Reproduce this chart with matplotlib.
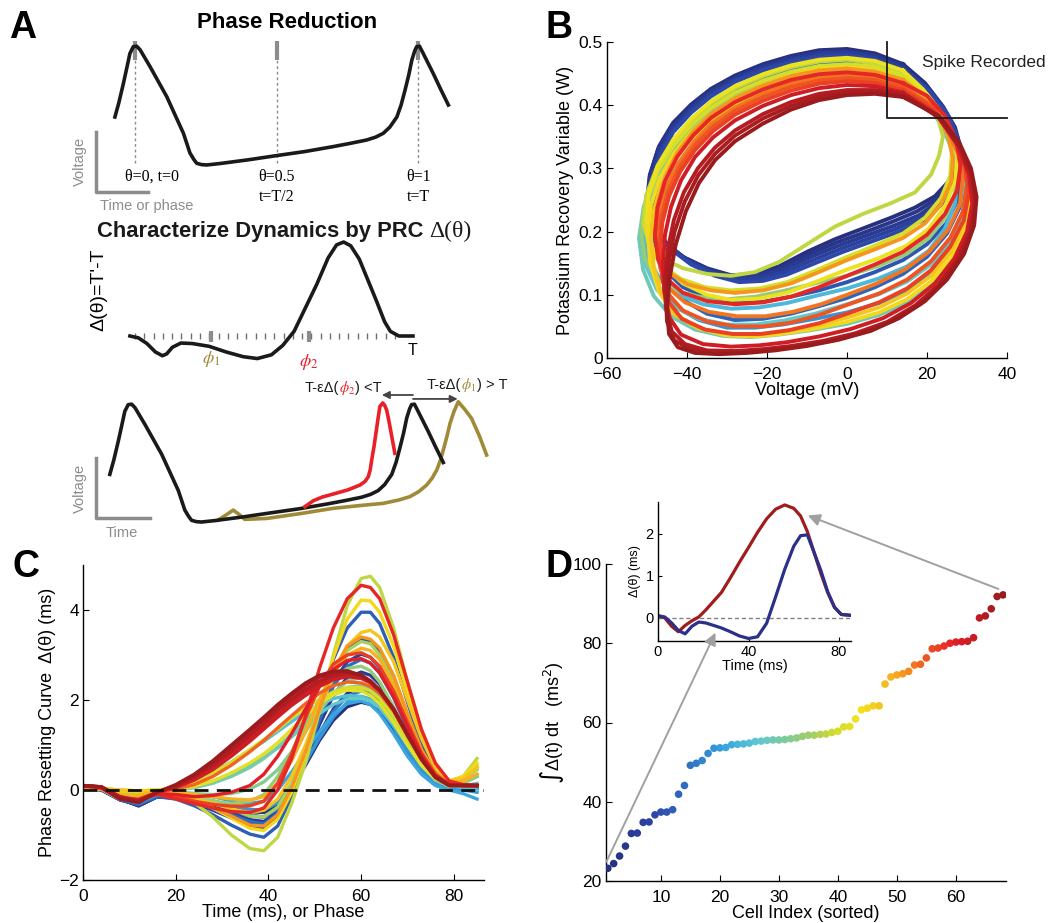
import matplotlib
matplotlib.use('Agg')
import matplotlib.pyplot as plt
import numpy as np
from matplotlib.colors import LinearSegmentedColormap
from matplotlib.offsetbox import TextArea, HPacker, AnnotationBbox
from matplotlib.patches import ConnectionPatch

plt.rcParams['font.family'] = ['Liberation Sans', 'DejaVu Sans']

W, H = 1053, 923

# muted jet colours, as printed
jet_stops = [0.0, 0.11, 0.2, 0.3, 0.38, 0.5, 0.58, 0.64, 0.74, 0.8, 0.88, 1.0]
jet_colors = ['#27307f', '#2d45a5', '#2f6fc0', '#3aa6e0', '#5fc8d2', '#98cc74',
              '#d4dc2c', '#f2e41c', '#f6a21e', '#f05a23', '#e31e26', '#9a1b1e']
n_cells = 68

# ---------------- panel A (schematic) ----------------
trace_t = [-0.071, -0.057, -0.041, -0.028, -0.018, -0.006, 0.006, 0.018, 0.053, 0.112,
           0.171, 0.194, 0.208, 0.218, 0.235, 0.253, 0.3, 0.4, 0.5, 0.6,
           0.7, 0.76, 0.818, 0.85, 0.877, 0.9, 0.925, 0.94, 0.954, 0.967,
           0.978, 0.988, 0.995, 1.005, 1.018, 1.054, 1.08, 1.107]
trace_v = [0.4, 0.52, 0.68, 0.82, 0.93, 0.986, 0.99, 0.96, 0.82, 0.57,
           0.264, 0.1, 0.045, 0.014, 0.003, 0.0, 0.012, 0.043, 0.078, 0.112,
           0.153, 0.18, 0.208, 0.232, 0.264, 0.315, 0.4, 0.5, 0.625, 0.75,
           0.875, 0.95, 0.986, 0.99, 0.93, 0.76, 0.63, 0.5]
phase_marks = [0.0, 0.5, 1.0]

prc_theta = [0.0, 0.03, 0.06, 0.09, 0.115, 0.13, 0.15, 0.18, 0.22, 0.28, 0.34, 0.4,
             0.45, 0.5, 0.54, 0.58, 0.62, 0.66, 0.7, 0.73, 0.755, 0.78, 0.81, 0.84,
             0.87, 0.9, 0.92, 0.95, 0.98, 1.0]
prc_delta = [0.0, -0.02, -0.08, -0.17, -0.21, -0.19, -0.12, -0.075, -0.08, -0.11, -0.17, -0.22,
             -0.24, -0.2, -0.1, 0.05, 0.3, 0.55, 0.83, 0.97, 1.0, 0.96, 0.82, 0.6,
             0.38, 0.15, 0.05, 0.0, 0.0, 0.0]
phi1, phi2 = 0.286, 0.633

red_t = [0.618, 0.648, 0.68, 0.718, 0.77, 0.813, 0.83, 0.842, 0.849, 0.854, 0.862, 0.869,
         0.876, 0.883, 0.893, 0.9, 0.907, 0.914, 0.921, 0.936]
red_v = [0.129, 0.179, 0.21, 0.235, 0.27, 0.311, 0.34, 0.38, 0.44, 0.52, 0.63, 0.745,
         0.86, 0.97, 1.0, 0.98, 0.94, 0.86, 0.77, 0.577]
olive_t = [0.312, 0.34, 0.365, 0.385, 0.406, 0.483, 0.6, 0.718, 0.82, 0.895, 0.95, 0.989,
           1.02, 1.048, 1.068, 1.084, 1.097, 1.107, 1.12, 1.131, 1.145, 1.16, 1.185, 1.207,
           1.235, 1.26]
olive_v = [0.017, 0.06, 0.1, 0.065, 0.022, 0.03, 0.07, 0.115, 0.14, 0.157, 0.185, 0.213,
           0.255, 0.31, 0.37, 0.437, 0.52, 0.605, 0.72, 0.83, 0.93, 1.01, 0.94, 0.87,
           0.72, 0.563]

# ---------------- panel B: limit cycles (V, W) ----------------
loop_cells = [1, 3, 5, 7, 9, 11, 13, 19, 24, 27, 29, 34, 38, 40, 43, 45, 47, 51, 53, 55,
              57, 59, 62, 65, 66, 68]
loops = [
    [(14, .465), (7, .482), (0, .489), (-7, .487), (-14, .478), (-21, .465), (-28, .447), (-34, .426),
     (-39, .401), (-43.5, .372), (-47, .335), (-49.3, .29), (-50, .25), (-49, .215), (-46, .185),
     (-41, .16), (-35, .142), (-29, .131), (-23, .133), (-17, .145), (-10, .168), (-3, .188), (4, .205),
     (11, .222), (17, .238), (22, .256), (25.5, .28), (27.8, .31), (28.3, .335), (27, .365), (24, .398),
     (19.5, .435), (14, .465)],
    [(14, .462), (7, .479), (0, .486), (-7, .484), (-14, .475), (-21, .462), (-28, .444), (-34, .423),
     (-39, .398), (-43.5, .368), (-47.2, .331), (-49.3, .287), (-49.8, .247), (-48.7, .212), (-45.5, .182),
     (-40.5, .158), (-34.5, .14), (-28.5, .129), (-22.5, .132), (-16.5, .143), (-9.5, .164), (-2.5, .183),
     (4.5, .199), (11.5, .216), (17.5, .232), (22.5, .252), (26, .28), (28.2, .313), (27.8, .345),
     (25.5, .38), (21, .42), (14, .462)],
    [(14, .46), (7, .477), (0, .484), (-7, .482), (-14, .473), (-21, .46), (-28, .442), (-34, .42),
     (-39, .395), (-43.5, .365), (-47, .328), (-49, .285), (-49.5, .245), (-48.3, .21), (-45, .18),
     (-40, .155), (-34, .137), (-28, .127), (-22, .13), (-16, .14), (-9, .16), (-2, .178), (5, .194),
     (12, .21), (18, .226), (23, .248), (26.5, .28), (28, .315), (27.3, .35), (25, .385), (20.5, .425),
     (14, .46)],
    [(14, .457), (7, .474), (0, .481), (-7, .479), (-14, .47), (-21, .457), (-28, .439), (-34, .417),
     (-39, .391), (-43.5, .36), (-46.9, .322), (-48.8, .28), (-49.2, .24), (-47.8, .205), (-44.5, .176),
     (-39.5, .152), (-33.5, .134), (-27.5, .124), (-21.5, .126), (-15.5, .136), (-8.5, .155), (-1.5, .173),
     (5.5, .189), (12.5, .205), (18.5, .222), (23.3, .245), (26.8, .278), (28.3, .313), (27.5, .35),
     (25, .386), (20.5, .424), (14, .457)],
    [(14, .455), (7, .472), (0, .478), (-7, .476), (-14, .468), (-21, .455), (-28, .437), (-34, .414),
     (-39, .388), (-43.5, .357), (-46.8, .318), (-48.6, .275), (-48.8, .235), (-47.3, .2), (-44, .172),
     (-39, .148), (-33, .13), (-27, .12), (-21, .122), (-15, .132), (-8, .15), (-1, .168), (6, .184),
     (13, .2), (19, .218), (23.5, .242), (27, .275), (28.5, .312), (27.6, .35), (25, .387), (20.5, .423),
     (14, .455)],
    [(14, .45), (7, .465), (0, .47), (-7, .467), (-14, .458), (-21, .444), (-28, .425), (-34, .401),
     (-39, .373), (-43.3, .34), (-46.7, .301), (-48.7, .258), (-49.2, .215), (-48, .172), (-45.3, .138),
     (-41, .112), (-35, .095), (-28, .087), (-21, .089), (-14, .097), (-7, .107), (0, .12), (7, .136),
     (14, .155), (20, .18), (24.8, .213), (27.8, .252), (28.6, .292), (27.5, .332), (24.8, .372),
     (20.5, .41), (14, .45)],
    [(14, .448), (7, .463), (0, .468), (-7, .465), (-14, .456), (-21, .442), (-28, .422), (-34, .398),
     (-39, .37), (-43, .337), (-46.3, .298), (-48.2, .255), (-48.5, .21), (-47.3, .165), (-45, .125),
     (-41, .092), (-35, .07), (-28, .06), (-21, .062), (-14, .07), (-7, .082), (0, .095), (7, .112),
     (14, .133), (20, .16), (25, .197), (28.3, .24), (29.3, .28), (28.3, .32), (25.5, .362), (21, .405),
     (14, .448)],
    [(14, .44), (7, .454), (0, .458), (-7, .455), (-14, .446), (-21, .432), (-28, .412), (-34, .388),
     (-39, .36), (-43.5, .327), (-47.5, .29), (-50, .245), (-51, .2), (-50, .155), (-47.5, .115),
     (-43, .082), (-37, .06), (-30, .048), (-23, .048), (-16, .053), (-8, .062), (0, .072), (8, .087),
     (15, .107), (21, .135), (25.5, .17), (29, .215), (30.2, .26), (29, .305), (26, .35), (21, .397),
     (14, .44)],
    [(14, .432), (7, .445), (0, .448), (-7, .445), (-14, .436), (-21, .422), (-28, .402), (-34, .378),
     (-39, .35), (-43.5, .318), (-47.3, .28), (-49.8, .237), (-50.6, .195), (-49.5, .155), (-46.5, .122),
     (-42, .1), (-36, .085), (-29, .078), (-22, .08), (-15, .087), (-8, .098), (0, .11), (8, .126),
     (15, .145), (20.5, .17), (24.5, .205), (27, .245), (27.6, .285), (26.5, .325), (24, .365), (20, .403),
     (14, .432)],
    [(14, .43), (7, .443), (0, .446), (-7, .443), (-14, .434), (-21, .42), (-28, .4), (-34, .376),
     (-39, .348), (-43.5, .316), (-47.5, .278), (-50.3, .234), (-51.3, .19), (-50.3, .146), (-47.5, .108),
     (-43, .08), (-37, .062), (-30, .053), (-23, .053), (-16, .059), (-8, .07), (0, .085), (8, .101),
     (15, .121), (21, .148), (25.8, .183), (28.8, .225), (29.6, .268), (28.6, .31), (25.8, .352),
     (21, .395), (14, .43)],
    [(14, .437), (7, .45), (0, .455), (-7, .452), (-14, .443), (-21, .429), (-28, .409), (-34, .385),
     (-39, .357), (-43.5, .324), (-47.8, .285), (-50.8, .24), (-52, .19), (-51, .14), (-48.3, .098),
     (-44, .066), (-38, .045), (-31, .035), (-24, .033), (-17, .037), (-9, .044), (0, .054), (8, .068),
     (15, .088), (21, .115), (26, .152), (29.5, .2), (30.8, .25), (29.8, .298), (26.7, .345), (21.5, .393),
     (14, .437)],
    [(14, .443), (7, .457), (0, .462), (-7, .459), (-14, .45), (-21, .436), (-28, .416), (-34, .392),
     (-39, .364), (-43.5, .331), (-47.5, .292), (-50.3, .248), (-51.5, .2), (-50.5, .158), (-47.8, .127),
     (-43, .107), (-37, .097), (-30, .093), (-23, .097), (-16, .106), (-8, .118), (0, .13), (8, .146),
     (15, .165), (20.5, .19), (24.5, .222), (27, .26), (27.5, .298), (26.3, .337), (23.5, .375),
     (19.5, .41), (14, .443)],
    [(14, .45), (7, .466), (0, .472), (-7, .469), (-14, .46), (-21, .446), (-28, .427), (-34, .403),
     (-39, .375), (-43.5, .342), (-47.5, .302), (-50.2, .258), (-51, .215), (-49.5, .18), (-46, .157),
     (-41, .142), (-35, .133), (-29, .13), (-23, .136), (-17, .152), (-10, .18), (-3, .208), (4, .228),
     (11, .245), (17, .262), (21, .29), (23, .32), (24, .35), (22.5, .385), (19, .418), (14, .45)],
    [(14, .447), (7, .461), (0, .465), (-7, .462), (-14, .453), (-21, .439), (-28, .42), (-34, .396),
     (-39, .368), (-43.5, .335), (-47.3, .296), (-49.8, .252), (-50.5, .21), (-49.2, .172), (-46, .145),
     (-41.5, .125), (-35.5, .112), (-29, .107), (-22, .11), (-15, .12), (-8, .138), (0, .16), (7, .178),
     (14, .197), (19.5, .222), (23.5, .253), (25.8, .288), (26.2, .325), (24.8, .362), (22, .396),
     (18.5, .425), (14, .447)],
    [(14, .455), (7, .47), (0, .475), (-7, .472), (-14, .463), (-21, .449), (-28, .43), (-34, .406),
     (-39, .378), (-43.5, .345), (-47.3, .305), (-49.6, .26), (-50, .215), (-48.7, .175), (-45.5, .143),
     (-41, .118), (-35, .1), (-29, .092), (-22, .094), (-15, .103), (-8, .12), (0, .14), (8, .158),
     (15, .178), (20.5, .205), (24.5, .24), (27, .28), (27.6, .318), (26.2, .356), (23, .393), (19, .425),
     (14, .455)],
    [(14, .44), (7, .455), (0, .46), (-7, .457), (-14, .447), (-21, .432), (-28, .411), (-34, .386),
     (-39, .357), (-43.3, .323), (-46.8, .285), (-49, .242), (-49.8, .197), (-49.2, .15), (-47, .105),
     (-43.5, .072), (-37.5, .048), (-30.5, .036), (-23.5, .034), (-16.5, .038), (-8.5, .046), (0, .057),
     (8, .072), (15, .093), (21, .121), (26, .158), (29.5, .203), (30.8, .252), (29.8, .3), (26.8, .347),
     (21.8, .393), (14, .44)],
    [(14, .433), (7, .446), (0, .45), (-7, .447), (-14, .437), (-21, .422), (-28, .401), (-34, .376),
     (-39, .347), (-43, .314), (-46.3, .276), (-48.3, .233), (-49, .19), (-48.3, .145), (-46.3, .1),
     (-43, .068), (-37, .047), (-30, .038), (-23, .037), (-16, .042), (-8, .051), (0, .064), (8, .08),
     (15, .102), (21, .13), (26, .168), (29.3, .213), (30.5, .26), (29.4, .305), (26.5, .35), (21.5, .395),
     (14, .433)],
    [(14, .44), (7, .453), (0, .458), (-7, .455), (-14, .446), (-21, .431), (-28, .411), (-34, .386),
     (-38.5, .358), (-42.5, .324), (-45.5, .285), (-47.3, .243), (-48, .2), (-47, .162), (-44.5, .135),
     (-40, .117), (-34, .107), (-28, .103), (-21, .107), (-14, .118), (-7, .136), (0, .155), (7, .172),
     (14, .19), (19.5, .213), (23.5, .243), (26, .278), (26.5, .315), (25.3, .352), (22.5, .388),
     (18.5, .418), (14, .44)],
    [(14, .432), (7, .444), (0, .448), (-7, .444), (-14, .434), (-21, .418), (-28, .396), (-33.8, .371),
     (-38.3, .342), (-42.2, .308), (-45.2, .27), (-47, .228), (-47.5, .184), (-46.7, .142), (-44.5, .11),
     (-40.5, .088), (-34.5, .073), (-27.5, .066), (-20.5, .066), (-13.5, .073), (-6.5, .085), (0, .1),
     (7.5, .118), (14.5, .14), (20.5, .168), (25.3, .203), (28.2, .243), (28.9, .283), (27.8, .323),
     (25, .362), (20.5, .4), (14, .432)],
    [(14, .428), (7, .44), (0, .443), (-7, .439), (-14, .429), (-21, .413), (-28, .391), (-33.5, .366),
     (-38, .337), (-41.8, .303), (-44.7, .264), (-46.5, .222), (-47, .178), (-46.3, .135), (-44.5, .1),
     (-41, .075), (-35, .058), (-28, .05), (-21, .05), (-14, .056), (-7, .068), (0, .084), (8, .102),
     (15, .124), (21, .153), (25.8, .19), (29, .232), (30, .275), (29, .318), (26, .36), (21, .4),
     (14, .428)],
    [(14, .424), (7, .435), (0, .438), (-7, .434), (-14, .423), (-21, .407), (-28, .385), (-33.5, .359),
     (-38, .329), (-41.7, .295), (-44.5, .256), (-46.2, .213), (-46.7, .17), (-46.2, .126), (-44.5, .088),
     (-41.3, .062), (-35.5, .045), (-28.5, .038), (-21.5, .038), (-14.5, .044), (-7, .055), (0, .07),
     (8, .088), (15, .11), (21, .139), (25.8, .176), (29.2, .218), (30.5, .262), (29.6, .306),
     (26.8, .349), (21.8, .392), (14, .424)],
    [(14, .435), (7, .448), (0, .452), (-7, .449), (-14, .44), (-21, .425), (-28, .405), (-34, .38),
     (-38.5, .352), (-42.5, .318), (-45.5, .28), (-47.4, .238), (-48, .195), (-47.2, .155), (-45, .125),
     (-41, .103), (-35, .09), (-28, .085), (-21, .088), (-14, .097), (-7, .112), (0, .13), (7, .148),
     (14, .168), (20, .195), (24.5, .228), (27.5, .265), (28.4, .305), (27.3, .345), (24.5, .383),
     (20, .415), (14, .435)],
    [(14, .42), (7, .43), (0, .432), (-7, .427), (-14, .416), (-21, .399), (-28, .376), (-33.5, .349),
     (-38, .318), (-41.5, .281), (-44, .239), (-45.5, .195), (-46, .15), (-45.7, .105), (-44.3, .063),
     (-41.5, .037), (-36, .022), (-29, .018), (-22, .02), (-15, .025), (-7, .034), (1, .046), (9, .063),
     (16, .087), (22, .118), (26.8, .157), (30, .2), (31.3, .245), (30.5, .29), (27.8, .335), (22.5, .385),
     (14, .42)],
    [(14, .418), (7, .424), (0, .424), (-7, .418), (-14, .405), (-21, .386), (-28, .36), (-33, .333),
     (-37.3, .3), (-40.8, .262), (-43.3, .218), (-44.8, .172), (-45.5, .125), (-45.3, .08), (-43.8, .042),
     (-40.5, .022), (-35, .012), (-28, .011), (-21, .014), (-14, .019), (-6, .027), (2, .039), (10, .057),
     (17, .083), (22.8, .115), (27.5, .155), (30.8, .2), (32, .245), (31, .29), (28.2, .333), (23, .38),
     (14, .418)],
    [(14, .415), (7, .421), (0, .42), (-7, .413), (-14, .399), (-21, .379), (-28, .352), (-33, .323),
     (-37.2, .289), (-40.6, .247), (-43.1, .2), (-44.6, .15), (-45.3, .1), (-45, .058), (-43.2, .028),
     (-39.5, .015), (-33.5, .009), (-26.5, .01), (-19.5, .013), (-12, .019), (-4, .027), (4, .04),
     (11.5, .059), (18.5, .086), (24, .12), (28.5, .16), (31.3, .205), (32.2, .25), (31, .295), (28, .338),
     (23, .382), (14, .415)],
    [(14, .413), (7, .418), (0, .416), (-7, .408), (-14, .393), (-21, .371), (-28, .343), (-33, .313),
     (-37, .277), (-40.3, .232), (-42.8, .18), (-44.3, .128), (-45, .078), (-44.5, .038), (-42.3, .017),
     (-38, .008), (-32, .006), (-25, .008), (-18, .012), (-10, .019), (-2, .029), (6, .043), (13, .063),
     (19.5, .09), (25, .124), (29.3, .165), (31.8, .21), (32.4, .255), (31, .3), (28, .342), (23, .383),
     (14, .413)],
]
spike_v, spike_w = 10, 0.38

# ---------------- panel C: phase resetting curves ----------------
prc_t = [0, 4, 8, 12, 16, 20, 24, 28, 32, 36, 39, 42, 45, 48, 51, 54, 57, 60, 62, 64,
         67, 70, 73, 76, 79, 82, 85]
prc_cells = [1, 3, 5, 7, 9, 12, 14, 16, 19, 21, 25, 27, 30, 32, 34, 36, 38, 40, 42, 45,
             47, 49, 51, 54, 57, 59, 60, 62, 63, 65, 66, 68]
prc_values = [
    [0.05, 0.02, -0.2, -0.35, -0.15, -0.12, -0.18, -0.27, -0.38, -0.48, -0.5, -0.35, 0.05, 0.55,
     1.1, 1.55, 1.85, 1.95, 1.9, 1.75, 1.35, 0.85, 0.42, 0.15, 0.05, 0.05, 0.05],
    [0.05, 0.02, -0.2, -0.35, -0.15, -0.13, -0.22, -0.33, -0.45, -0.58, -0.6, -0.45, -0.02, 0.6,
     1.25, 1.8, 2.15, 2.3, 2.25, 2.05, 1.6, 1.0, 0.5, 0.18, 0.06, 0.05, 0.05],
    [0.05, 0.02, -0.2, -0.35, -0.15, -0.15, -0.25, -0.38, -0.52, -0.66, -0.7, -0.5, 0.0, 0.7,
     1.45, 2.1, 2.5, 2.62, 2.55, 2.35, 1.8, 1.15, 0.6, 0.22, 0.07, 0.05, 0.05],
    [0.05, 0.0, -0.22, -0.33, -0.15, -0.16, -0.28, -0.42, -0.58, -0.74, -0.78, -0.55, 0.0, 0.8,
     1.65, 2.4, 2.85, 3.02, 2.95, 2.72, 2.15, 1.4, 0.72, 0.27, 0.08, 0.05, 0.05],
    [0.05, 0.0, -0.22, -0.33, -0.15, -0.18, -0.3, -0.45, -0.62, -0.8, -0.85, -0.6, 0.0, 0.85,
     1.8, 2.6, 3.15, 3.35, 3.3, 3.05, 2.4, 1.55, 0.8, 0.3, 0.08, 0.05, 0.05],
    [0.05, 0.0, -0.22, -0.3, -0.15, -0.2, -0.35, -0.55, -0.78, -0.98, -1.05, -0.8, -0.15, 0.75,
     1.85, 2.9, 3.6, 3.95, 3.95, 3.7, 2.95, 1.95, 1.0, 0.4, 0.12, 0.05, 0.05],
    [0.05, 0.02, -0.2, -0.32, -0.13, -0.14, -0.26, -0.4, -0.55, -0.7, -0.75, -0.52, 0.02, 0.75,
     1.55, 2.3, 2.75, 2.9, 2.82, 2.6, 2.05, 1.35, 0.7, 0.26, 0.07, 0.05, 0.05],
    [0.05, 0.02, -0.2, -0.3, -0.12, -0.1, -0.2, -0.3, -0.42, -0.55, -0.6, -0.42, 0.0, 0.6,
     1.2, 1.75, 2.08, 2.2, 2.15, 1.98, 1.5, 0.95, 0.48, 0.18, 0.05, 0.05, 0.05],
    [0.05, 0.02, -0.2, -0.28, -0.1, -0.08, -0.15, -0.24, -0.34, -0.43, -0.45, -0.28, 0.12, 0.62,
     1.15, 1.62, 1.95, 2.08, 2.02, 1.84, 1.4, 0.88, 0.44, 0.15, 0.04, 0.0, -0.05],
    [0.05, 0.02, -0.18, -0.25, -0.1, -0.05, -0.08, -0.15, -0.24, -0.3, -0.25, 0.0, 0.4, 0.85,
     1.3, 1.68, 1.92, 1.98, 1.9, 1.7, 1.25, 0.75, 0.35, 0.1, 0.0, -0.08, -0.2],
    [0.05, 0.02, -0.18, -0.2, -0.05, 0.05, 0.2, 0.4, 0.62, 0.88, 1.08, 1.3, 1.52, 1.73,
     1.9, 2.03, 2.1, 2.08, 2.0, 1.85, 1.5, 1.05, 0.6, 0.28, 0.1, 0.05, 0.0],
    [0.05, 0.02, -0.18, -0.22, -0.06, 0.0, 0.08, 0.2, 0.36, 0.55, 0.72, 0.93, 1.18, 1.45,
     1.7, 1.9, 2.02, 2.04, 1.98, 1.82, 1.45, 1.0, 0.55, 0.24, 0.08, 0.08, 0.15],
    [0.05, 0.02, -0.2, -0.22, -0.05, 0.0, 0.05, 0.15, 0.3, 0.5, 0.7, 0.95, 1.25, 1.55,
     1.85, 2.1, 2.28, 2.32, 2.25, 2.05, 1.6, 1.05, 0.55, 0.22, 0.08, 0.15, 0.3],
    [0.05, 0.02, -0.2, -0.2, -0.06, -0.05, -0.08, -0.1, -0.08, 0.02, 0.18, 0.45, 0.85, 1.3,
     1.75, 2.15, 2.42, 2.5, 2.42, 2.2, 1.72, 1.12, 0.58, 0.23, 0.08, 0.15, 0.3],
    [0.05, 0.02, -0.2, -0.22, -0.08, -0.1, -0.18, -0.25, -0.3, -0.25, -0.1, 0.3, 0.85, 1.45,
     2.0, 2.45, 2.7, 2.75, 2.65, 2.4, 1.85, 1.2, 0.62, 0.25, 0.08, 0.15, 0.35],
    [0.05, 0.02, -0.1, -0.12, -0.03, -0.05, -0.12, -0.25, -0.42, -0.58, -0.6, -0.38, 0.15, 0.9,
     1.75, 2.55, 3.1, 3.3, 3.25, 3.0, 2.4, 1.6, 0.85, 0.35, 0.12, 0.25, 0.45],
    [0.05, 0.02, -0.05, -0.05, 0.0, -0.1, -0.28, -0.6, -1.0, -1.3, -1.35, -1.05, -0.3, 0.6,
     1.75, 3.0, 4.1, 4.7, 4.75, 4.5, 3.6, 2.4, 1.3, 0.55, 0.2, 0.3, 0.7],
    [0.05, 0.03, -0.02, -0.03, 0.0, 0.05, 0.18, 0.38, 0.62, 0.9, 1.12, 1.35, 1.6, 1.82,
     2.02, 2.18, 2.28, 2.28, 2.2, 2.03, 1.65, 1.15, 0.65, 0.3, 0.15, 0.3, 0.55],
    [0.05, 0.03, 0.0, -0.02, 0.0, 0.0, 0.08, 0.2, 0.38, 0.6, 0.8, 1.05, 1.35, 1.65,
     1.92, 2.12, 2.22, 2.2, 2.1, 1.92, 1.5, 1.0, 0.55, 0.25, 0.15, 0.3, 0.5],
    [0.05, 0.03, 0.0, -0.02, 0.0, -0.08, -0.2, -0.4, -0.62, -0.85, -0.9, -0.65, -0.05, 0.8,
     1.85, 2.95, 3.8, 4.22, 4.2, 3.95, 3.2, 2.2, 1.2, 0.5, 0.2, 0.3, 0.6],
    [0.05, 0.03, 0.0, -0.02, -0.02, -0.1, -0.2, -0.3, -0.42, -0.5, -0.45, -0.2, 0.3, 1.0,
     1.8, 2.6, 3.2, 3.5, 3.55, 3.4, 2.85, 2.0, 1.15, 0.5, 0.2, 0.25, 0.5],
    [0.06, 0.03, -0.1, -0.12, -0.04, -0.05, -0.1, -0.15, -0.2, -0.22, -0.15, 0.15, 0.65, 1.3,
     2.0, 2.6, 3.0, 3.15, 3.1, 2.9, 2.35, 1.6, 0.88, 0.38, 0.15, 0.2, 0.35],
    [0.08, 0.03, -0.2, -0.2, -0.08, -0.12, -0.25, -0.4, -0.58, -0.78, -0.8, -0.55, 0.05, 0.85,
     1.8, 2.65, 3.2, 3.4, 3.35, 3.15, 2.55, 1.7, 0.9, 0.38, 0.15, 0.1, 0.1],
    [0.08, 0.03, -0.2, -0.2, -0.05, 0.02, 0.12, 0.3, 0.55, 0.85, 1.1, 1.38, 1.65, 1.92,
     2.15, 2.32, 2.4, 2.38, 2.3, 2.15, 1.75, 1.2, 0.68, 0.3, 0.12, 0.1, 0.1],
    [0.1, 0.05, -0.2, -0.22, -0.08, -0.15, -0.25, -0.32, -0.36, -0.35, -0.25, 0.15, 0.8, 1.6,
     2.3, 2.8, 3.0, 3.05, 2.95, 2.75, 2.2, 1.5, 0.82, 0.35, 0.12, 0.1, 0.1],
    [0.1, 0.05, -0.2, -0.22, -0.1, -0.2, -0.3, -0.4, -0.48, -0.5, -0.4, 0.0, 0.7, 1.65,
     2.7, 3.6, 4.25, 4.55, 4.5, 4.25, 3.45, 2.4, 1.35, 0.6, 0.2, 0.12, 0.1],
    [0.1, 0.05, -0.2, -0.22, -0.08, -0.1, -0.15, -0.12, -0.05, 0.1, 0.35, 0.75, 1.25, 1.8,
     2.3, 2.68, 2.88, 2.92, 2.82, 2.6, 2.08, 1.42, 0.78, 0.32, 0.12, 0.1, 0.1],
    [0.1, 0.06, -0.15, -0.22, -0.05, 0.05, 0.22, 0.45, 0.75, 1.08, 1.35, 1.62, 1.88, 2.1,
     2.3, 2.45, 2.52, 2.48, 2.38, 2.2, 1.8, 1.25, 0.72, 0.32, 0.12, 0.1, 0.1],
    [0.1, 0.06, -0.18, -0.24, -0.05, 0.1, 0.28, 0.52, 0.83, 1.15, 1.42, 1.7, 1.95, 2.18,
     2.37, 2.5, 2.56, 2.52, 2.4, 2.2, 1.8, 1.25, 0.7, 0.3, 0.1, 0.1, 0.1],
    [0.1, 0.07, -0.15, -0.25, -0.05, 0.08, 0.3, 0.55, 0.88, 1.22, 1.5, 1.78, 2.02, 2.24,
     2.42, 2.55, 2.6, 2.55, 2.42, 2.22, 1.8, 1.25, 0.7, 0.3, 0.1, 0.1, 0.1],
    [0.1, 0.07, -0.18, -0.27, -0.05, 0.1, 0.32, 0.6, 0.95, 1.3, 1.57, 1.85, 2.1, 2.32,
     2.5, 2.6, 2.62, 2.55, 2.42, 2.22, 1.78, 1.22, 0.68, 0.28, 0.1, 0.1, 0.1],
    [0.1, 0.07, -0.2, -0.28, -0.05, 0.12, 0.35, 0.65, 1.0, 1.35, 1.62, 1.9, 2.15, 2.38,
     2.55, 2.64, 2.65, 2.55, 2.42, 2.22, 1.78, 1.22, 0.68, 0.28, 0.1, 0.1, 0.1],
]

# ---------------- panel D: integrated PRC per cell ----------------
cell_index = list(range(1, n_cells + 1))
prc_integral = [23.2, 24.4, 26.3, 28.8, 32.0, 32.1, 34.8, 34.9, 36.7, 37.4,
                37.4, 38.0, 41.9, 44.1, 49.2, 49.7, 50.4, 52.2, 53.5, 53.6,
                53.7, 54.4, 54.5, 54.6, 54.8, 55.2, 55.3, 55.5, 55.6, 55.6,
                55.7, 55.9, 56.1, 56.5, 56.8, 56.8, 57.0, 57.1, 57.5, 57.8,
                58.9, 59.0, 60.9, 63.2, 63.6, 64.2, 64.2, 69.7, 71.5, 72.0,
                72.3, 72.9, 74.5, 74.7, 76.3, 78.6, 78.8, 79.3, 80.0, 80.3,
                80.4, 80.5, 81.4, 86.4, 86.9, 88.7, 91.8, 92.2]

inset_t = [0, 3, 6, 9, 12, 15, 18, 21, 24, 28, 32, 36, 40, 44, 48, 52, 56, 60, 63, 66,
           69, 72, 75, 78, 81, 85]
inset_red = [0.05, 0.0, -0.2, -0.33, -0.18, -0.07, 0.02, 0.18, 0.36, 0.6, 0.95, 1.32, 1.67,
             2.03, 2.35, 2.58, 2.68, 2.6, 2.42, 2.05, 1.55, 1.05, 0.6, 0.25, 0.08, 0.06]
inset_blue = [0.05, 0.02, -0.12, -0.3, -0.38, -0.2, -0.1, -0.12, -0.17, -0.24, -0.33, -0.43,
              -0.49, -0.45, -0.13, 0.5, 1.15, 1.7, 1.95, 1.97, 1.55, 1.12, 0.62, 0.25, 0.08, 0.06]


cmap = LinearSegmentedColormap.from_list('muted_jet', list(zip(jet_stops, jet_colors)))


def cell_color(i):
    return cmap((i - 1) / (n_cells - 1))


fig = plt.figure(figsize=(W / 100, H / 100), dpi=100)


def px_axes(l, t, r, b):
    return fig.add_axes([l / W, 1 - b / H, (r - l) / W, (b - t) / H])


def fpos(x, y):
    return x / W, 1 - y / H


def matlab_axes(ax, size=12.5, xpad=6.5):
    for s in ['top', 'right']:
        ax.spines[s].set_visible(False)
    for s in ['left', 'bottom']:
        ax.spines[s].set_linewidth(1.0)
    ax.tick_params(direction='in', length=4, width=0.8, labelsize=size, pad=3)
    ax.tick_params(axis='x', pad=xpad)


def color_text(parts, x, y, size, family=None, weight='normal'):
    boxes = []
    for s, c, fam, extra in parts:
        props = dict(color=c, fontsize=size, family=fam or family, fontweight=weight)
        props.update(extra)
        boxes.append(TextArea(s, textprops=props))
    pack = HPacker(children=boxes, align='baseline', pad=0, sep=0)
    ab = AnnotationBbox(pack, fpos(x, y), xycoords='figure fraction',
                        box_alignment=(0, 0.5), frameon=False, pad=0)
    fig.add_artist(ab)


sans = ['Liberation Sans', 'DejaVu Sans']
serif = ['Liberation Serif', 'DejaVu Serif']
gray = '#8c8c8c'
olive = '#a08a38'
red = '#e8202a'
black = '#1a1a1a'

# ---- A1: phase reduction ----
axA1 = px_axes(60, 30, 520, 215)
axA1.set_xlim(-0.265, 1.360)
axA1.set_ylim(-0.417, 1.125)
axA1.axis('off')
for th in phase_marks:
    axA1.plot([th, th], [0.875, 1.03], color=gray, lw=3, solid_capstyle='butt')
    axA1.plot([th, th], [0.017, 0.875], color=gray, lw=1, ls=(0, (2, 2)))
axA1.plot(trace_t, trace_v, color=black, lw=2.6, solid_joinstyle='round')
axA1.text(0.06, -0.1, 'θ=0, t=0', ha='center', va='center', fontsize=11.5, family=serif)
axA1.text(0.5, -0.1, 'θ=0.5', ha='center', va='center', fontsize=11.5, family=serif)
axA1.text(0.5, -0.267, 't=T/2', ha='center', va='center', fontsize=11.5, family=serif)
axA1.text(1.0, -0.1, 'θ=1', ha='center', va='center', fontsize=11.5, family=serif)
axA1.text(1.0, -0.267, 't=T', ha='center', va='center', fontsize=11.5, family=serif)
axA1.plot([-0.138, -0.138, 0.046], [0.275, -0.225, -0.225], color=gray, lw=2.5)
axA1.text(-0.194, 0.03, 'Voltage', rotation=90, ha='center', va='center', color=gray, fontsize=10.5)
axA1.text(-0.124, -0.342, 'Time or phase', ha='left', va='center', color=gray, fontsize=10.5)

fig.text(*fpos(287, 28), 'Phase Reduction', ha='center', va='baseline', fontsize=16, fontweight='bold')
color_text([('Characterize Dynamics by PRC ', black, sans, {}),
            ('Δ(θ)', black, serif, {'fontweight': 'normal', 'fontsize': 17})],
           97, 231, 15.8, weight='bold')

# ---- A2: PRC sketch ----
axA2 = px_axes(60, 238, 520, 375)
axA2.set_xlim(-0.247, 1.378)
axA2.set_ylim(-0.415, 1.043)
axA2.axis('off')
axA2.plot(np.linspace(0.018, 0.936, 29), np.zeros(29), ls='none', marker='|', ms=4,
          mew=1, color='#707070')
for ph in [phi1, phi2]:
    axA2.plot([ph, ph], [-0.065, 0.055], color=gray, lw=3, solid_capstyle='butt')
axA2.plot(prc_theta, prc_delta, color=black, lw=2.6, solid_joinstyle='round')
axA2.text(phi1, -0.25, r'$\phi_1$', color=olive, ha='center', va='center', fontsize=13,
          math_fontfamily='stix')
axA2.text(phi2, -0.28, r'$\phi_2$', color=red, ha='center', va='center', fontsize=13,
          math_fontfamily='stix')
axA2.text(1.0, -0.15, 'T', ha='center', va='center', fontsize=11.5)
axA2.text(-0.108, 0.49, "Δ(θ)=T'-T", rotation=90, ha='center', va='center', fontsize=14)

# ---- A3: perturbed traces ----
axA3 = px_axes(60, 375, 520, 545)
axA3.set_xlim(-0.247, 1.378)
axA3.set_ylim(-0.193, 1.235)
axA3.axis('off')
axA3.plot(olive_t, olive_v, color=olive, lw=2.6, solid_joinstyle='round')
axA3.plot(trace_t, trace_v, color=black, lw=2.6, solid_joinstyle='round')
axA3.plot(red_t, red_v, color=red, lw=2.6, solid_joinstyle='round')
axA3.annotate('', xy=(0.89, 1.067), xytext=(1.0, 1.067),
              arrowprops=dict(arrowstyle='-|>', color='#444444', lw=1.3, mutation_scale=11,
                              shrinkA=0, shrinkB=0))
axA3.annotate('', xy=(1.158, 1.034), xytext=(1.0, 1.034),
              arrowprops=dict(arrowstyle='-|>', color='#444444', lw=1.3, mutation_scale=11,
                              shrinkA=0, shrinkB=0))
axA3.plot([-0.12, -0.12, 0.071], [0.538, 0.034, 0.034], color=gray, lw=2.5)
axA3.text(-0.177, 0.286, 'Voltage', rotation=90, ha='center', va='center', color=gray, fontsize=10.5)
axA3.text(-0.028, -0.092, 'Time', ha='center', va='center', color=gray, fontsize=10.5)
mathstix = {'math_fontfamily': 'stix'}
color_text([('T-εΔ(', black, sans, {}), (r'$\phi_2$', red, sans, mathstix),
            (') <T', black, sans, {})], 305, 388, 10.5)
color_text([('T-εΔ(', black, sans, {}), (r'$\phi_1$', olive, sans, mathstix),
            (') > T', black, sans, {})], 427, 385, 10.5)

# ---- B: limit cycles ----
axB = px_axes(607, 42, 1007, 358)
for idx, pts in zip(loop_cells, loops):
    pts = np.array(pts)
    axB.plot(pts[:, 0], pts[:, 1], color=cell_color(idx), lw=2.8, solid_joinstyle='round')
axB.plot([spike_v, spike_v, 40], [0.5, spike_w, spike_w], color=black, lw=1.3, clip_on=False)
axB.text(18.8, 0.468, 'Spike Recorded', ha='left', va='center', fontsize=12.5, color='#222222')
axB.set_xlim(-60, 40)
axB.set_ylim(0, 0.5)
axB.set_xticks([-60, -40, -20, 0, 20, 40])
axB.set_yticks([0, 0.1, 0.2, 0.3, 0.4, 0.5])
axB.set_yticklabels(['0', '0.1', '0.2', '0.3', '0.4', '0.5'])
matlab_axes(axB)
axB.set_xlabel('Voltage (mV)', fontsize=13, labelpad=0)
axB.set_ylabel('Potassium Recovery Variable (W)', fontsize=13, labelpad=3)

# ---- C: PRCs ----
axC = px_axes(83, 565, 484, 880)
for k in np.argsort(prc_cells, kind='stable'):
    axC.plot(prc_t, prc_values[k], color=cell_color(prc_cells[k]), lw=2.4, solid_joinstyle='round')
axC.plot([0, 86.5], [0, 0], color='#111111', lw=2, dashes=(5, 3), zorder=5)
axC.set_xlim(0, 86.5)
axC.set_ylim(-2, 5)
axC.set_xticks([0, 20, 40, 60, 80])
axC.set_yticks([-2, 0, 2, 4])
matlab_axes(axC)
axC.set_xlabel('Time (ms), or Phase', fontsize=13, labelpad=0)
axC.set_ylabel('Phase Resetting Curve  Δ(θ) (ms)', fontsize=13, labelpad=2)

# ---- D: integrals ----
axD = px_axes(606, 564, 1006, 881)
axD.scatter(cell_index, prc_integral, c=[cell_color(i) for i in cell_index], s=30,
            linewidths=0, zorder=3)
axD.set_xlim(0.7, 68.5)
axD.set_ylim(20, 100)
axD.set_xticks([10, 20, 30, 40, 50, 60])
axD.set_yticks([20, 40, 60, 80, 100])
matlab_axes(axD)
axD.set_xlabel('Cell Index (sorted)', fontsize=13, labelpad=0)
axD.set_ylabel(r'$\int$Δ(t) dt   (ms$^2$)', fontsize=13, labelpad=5,
               math_fontfamily='dejavusans')

axIn = px_axes(658, 502, 851, 641)
axIn.patch.set_alpha(0)
axIn.plot([0, 85], [0, 0], color='#808080', lw=1, dashes=(3, 2))
axIn.plot(inset_t, inset_red, color='#a01c1e', lw=2.3)
axIn.plot(inset_t, inset_blue, color='#2b3088', lw=2.3)
axIn.set_xlim(0, 85.3)
axIn.set_ylim(-0.55, 2.75)
axIn.set_xticks([0, 40, 80])
axIn.set_yticks([0, 1, 2])
matlab_axes(axIn, size=10.5, xpad=3)
axIn.tick_params(length=3)
axIn.set_xlabel('Time (ms)', fontsize=10.5, labelpad=0)
axIn.set_ylabel('Δ(θ) (ms)', fontsize=9, labelpad=3)

for xyA, xyB in [((0.75, 24.8), (25.4, -0.355)), ((67.2, 93.7), (66.2, 2.43))]:
    con = ConnectionPatch(xyA=xyA, coordsA=axD.transData, xyB=xyB, coordsB=axIn.transData,
                          arrowstyle='-|>', color='#a0a0a0', lw=1.4, mutation_scale=18,
                          shrinkA=0, shrinkB=0)
    fig.add_artist(con)

# panel letters
for letter, x, y in [('A', 9, 38), ('B', 545, 38), ('C', 12, 577), ('D', 545, 577)]:
    fig.text(*fpos(x, y), letter, fontsize=27, fontweight='bold', va='baseline', ha='left')

fig.savefig('out.png', dpi=100)
